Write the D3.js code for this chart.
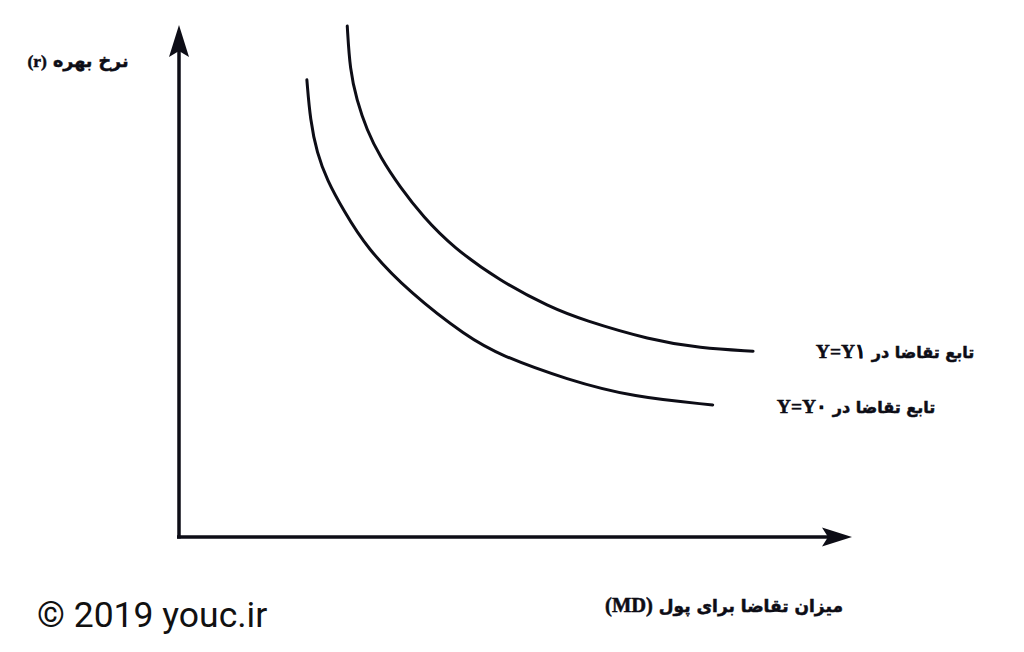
<!DOCTYPE html>
<html><head><meta charset="utf-8">
<script src="https://cdn.jsdelivr.net/npm/d3@7/dist/d3.min.js"></script>
<style>html,body{margin:0;padding:0;background:#fff;}svg{display:block;}</style>
</head><body>
<svg id="c" width="1024" height="652"></svg>
<script>
// Data (abstract units: money demand MD on x, interest rate r on y)
const curveY1_md = [2.50, 2.54, 2.64, 2.79, 2.99, 3.28, 3.63, 4.07, 4.77, 5.51, 6.00, 7.00, 7.74, 8.53];
const curveY1_r  = [9.98, 9.12, 8.54, 7.95, 7.42, 6.84, 6.25, 5.66, 5.00, 4.49, 4.24, 3.85, 3.69, 3.63];
const curveY0_md = [1.90, 1.95, 2.05, 2.20, 2.44, 2.79, 3.43, 4.28, 4.77, 5.77, 6.75, 7.93];
const curveY0_r  = [8.93, 8.14, 7.50, 6.97, 6.39, 5.64, 4.77, 3.91, 3.55, 3.07, 2.73, 2.58];
const labelFa = "تابع تقاضا در ";
const labelY1 = "Y=Y۱";
const labelY0 = "Y=Y۰";
const yAxisTitleFa = "نرخ بهره ";
const yAxisTitleSym = "(r)";
const xAxisTitleFa = "میزان تقاضا برای پول ";
const xAxisTitleSym = "(MD)";
const credit = "© 2019 youc.ir";

const svg = d3.select("#c");
const x = d3.scaleLinear().domain([0, 10]).range([179, 852]);
const y = d3.scaleLinear().domain([0, 10]).range([537, 25]);
const ink = "#0d0d16";

// axes
svg.append("line").attr("x1", x(0) - 2).attr("y1", y(0)).attr("x2", x(10) - 20).attr("y2", y(0))
  .attr("stroke", ink).attr("stroke-width", 3.5);
svg.append("line").attr("x1", x(0)).attr("y1", y(0) + 1.5).attr("x2", x(0)).attr("y2", y(10) + 20)
  .attr("stroke", ink).attr("stroke-width", 3.5);
// arrowheads
const tx = x(10), ty = y(0);
svg.append("path").attr("d", `M${tx},${ty} L${tx-30},${ty-9.5} L${tx-24},${ty} L${tx-30},${ty+9.5} Z`).attr("fill", ink);
const vx = x(0), vy = y(10);
svg.append("path").attr("d", `M${vx},${vy} L${vx-10},${vy+32} L${vx},${vy+26} L${vx+10},${vy+32} Z`).attr("fill", ink);

// curves
const line = d3.line().x(d => x(d[0])).y(d => y(d[1])).curve(d3.curveBasis);
[[curveY1_md, curveY1_r], [curveY0_md, curveY0_r]].forEach(([mx, rr]) => {
  svg.append("path").attr("d", line(mx.map((v, i) => [v, rr[i]])))
    .attr("fill", "none").attr("stroke", ink).attr("stroke-width", 3).attr("stroke-linecap", "round");
});

const fa = "'DejaVu Sans', sans-serif";
const serif = "'Liberation Serif', 'DejaVu Serif', serif";
function rtlText(faPart, symPart, cx, by, size, symSize) {
  const t = svg.append("text").attr("x", cx).attr("y", by).attr("text-anchor", "middle")
    .attr("direction", "rtl").attr("font-family", fa).attr("font-weight", "bold")
    .attr("font-size", size).attr("fill", ink).attr("stroke", ink).attr("stroke-width", 0.5);
  t.append("tspan").text(faPart);
  t.append("tspan").attr("font-family", serif).attr("font-size", symSize).text(symPart);
}
rtlText(yAxisTitleFa, yAxisTitleSym, 78, 67, 17.5, 17.5);
rtlText(labelFa, labelY1, 895, 358, 16, 19.5);
rtlText(labelFa, labelY0, 856, 413, 16, 19.5);
rtlText(xAxisTitleFa, xAxisTitleSym, 724, 612, 17, 20.5);

svg.append("text").attr("x", 37).attr("y", 627).attr("font-family", "Roboto, sans-serif")
  .attr("font-size", 35.5).attr("fill", "#111").text(credit);
</script>
</body></html>
